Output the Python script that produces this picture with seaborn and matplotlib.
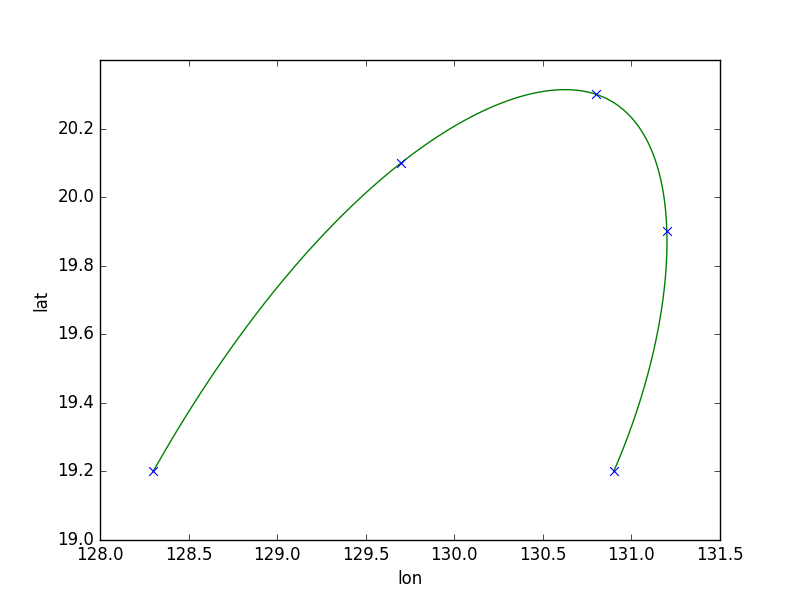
import numpy as np
import pandas as pd
import matplotlib
matplotlib.use('Agg')
import matplotlib.pyplot as plt
import seaborn as sns

# Punts de la trajectòria
lon = [128.3, 129.7, 130.8, 131.2, 130.9]
lat = [19.2, 20.1, 20.3, 19.9, 19.2]

plt.style.use('classic')
plt.rcParams['font.family'] = ['DejaVu Sans']

# Spline cúbica paramètrica (paràmetre uniforme, un nus interior)
x = np.array(lon)
y = np.array(lat)
u = np.linspace(0, 1, len(lon))
k = u[2]


def base(t):
    t = np.asarray(t, dtype=float)
    return np.column_stack([np.ones_like(t), t, t**2, t**3, np.clip(t - k, 0, None)**3])


A = base(u)
cx = np.linalg.solve(A, x)
cy = np.linalg.solve(A, y)
B = base(np.linspace(0, 1, 400))
curve = pd.DataFrame({'lon': B @ cx, 'lat': B @ cy})
pts = pd.DataFrame({'lon': lon, 'lat': lat})

fig, ax = plt.subplots(figsize=(8, 6), dpi=100)
sns.scatterplot(data=pts, x='lon', y='lat', marker='x', color='b', s=40, linewidth=0.8, ax=ax, zorder=3)
sns.lineplot(data=curve, x='lon', y='lat', sort=False, color='g', ax=ax)

ax.set_xlim(128.0, 131.5)
ax.set_ylim(19.0, 20.4)
ax.set_xticks(np.arange(128.0, 131.51, 0.5))
ax.set_yticks(np.arange(19.0, 20.21, 0.2))
ax.set_xlabel('lon')
ax.set_ylabel('lat')
fig.savefig('out.png', dpi=100)
